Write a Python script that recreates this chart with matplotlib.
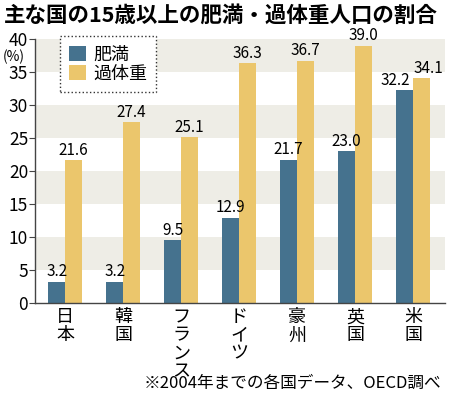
import numpy as np
import matplotlib
matplotlib.use("Agg")
import matplotlib.pyplot as plt

plt.rcParams['font.family'] = ['Noto Sans CJK JP', 'DejaVu Sans']

# data
countries = ["日本", "韓国", "フランス", "ドイツ", "豪州", "英国", "米国"]
obese = [3.2, 3.2, 9.5, 12.9, 21.7, 23.0, 32.2]
overweight = [21.6, 27.4, 25.1, 36.3, 36.7, 39.0, 34.1]
series_names = ["肥満", "過体重"]
yticks = [0, 5, 10, 15, 20, 25, 30, 35, 40]

BLUE = "#45728e"
GOLD = "#ebc66c"
BAND = "#eeede6"

fig = plt.figure(figsize=(4.49, 3.98), dpi=100)
ax = fig.add_axes([0.078, 0.239, 0.913, 0.663])

# alternating shaded bands
for lo in (5, 15, 25, 35):
    ax.axhspan(lo, lo + 5, color=BAND, zorder=0, lw=0)

x = np.arange(len(countries))
w = 0.29
b1 = ax.bar(x - w / 2, obese, w, color=BLUE, label=series_names[0], zorder=2)
b2 = ax.bar(x + w / 2, overweight, w, color=GOLD, label=series_names[1], zorder=2)

# last group labels are pushed apart so they don't collide
last = len(countries) - 1
for bars, vals, shift in ((b1, obese, -7), (b2, overweight, 5)):
    for i, (r, v) in enumerate(zip(bars, vals)):
        dx = shift if i == last else 0
        ax.annotate(f"{v:.1f}", (r.get_x() + r.get_width() / 2, v),
                    xytext=(dx, 1), textcoords="offset points",
                    ha="center", va="bottom", fontsize=11, zorder=3)

ax.set_xlim(-0.52, 6.55)
ax.set_ylim(0, 40)
ax.set_yticks(yticks)
ax.set_yticklabels([str(t) for t in yticks], fontsize=12.5)
ax.set_xticks(x)
ax.set_xticklabels(["\n".join(c) for c in countries], fontsize=13,
                   va="top", linespacing=1.0)
ax.tick_params(axis="x", length=0, pad=4)
ax.tick_params(axis="y", length=4, width=0.8, pad=1, color="#444444")

for s in ("top", "right"):
    ax.spines[s].set_visible(False)
for s in ("left", "bottom"):
    ax.spines[s].set_color("#444444")
    ax.spines[s].set_linewidth(1.0)

leg = ax.legend(loc="upper left", bbox_to_anchor=(0.062, 1.01), fontsize=13,
                handlelength=0.9, handleheight=0.9, handletextpad=0.4,
                labelspacing=0.1, borderpad=0.5, borderaxespad=0,
                fancybox=False, framealpha=1, edgecolor="#333333")
leg.get_frame().set_linestyle(":")
leg.get_frame().set_linewidth(1.0)

fig.text(0.008, 0.962, "主な国の15歳以上の肥満・過体重人口の割合",
         fontsize=15.5, fontweight="bold", va="center", ha="left")
fig.text(0.006, 0.858, "(%)", fontsize=10, va="center", ha="left")
fig.text(0.982, 0.038, "※2004年までの各国データ、OECD調べ",
         fontsize=12, va="center", ha="right")

fig.savefig("out.png", dpi=100)
